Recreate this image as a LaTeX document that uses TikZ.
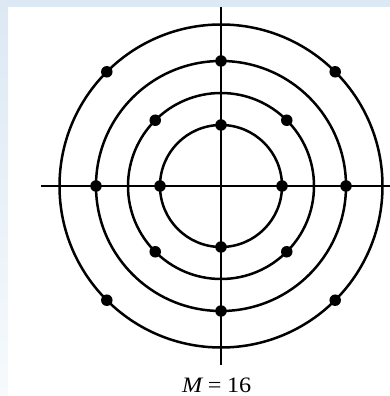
\documentclass[tikz,border=0pt]{standalone}
\usepackage{fontspec}
\setmainfont{Liberation Serif}
\usetikzlibrary{calc}
\definecolor{frametop}{RGB}{220,232,243}
\definecolor{framebot}{RGB}{246,250,253}
\begin{document}
\begin{tikzpicture}[x=1pt,y=1pt,
  ring/.style={line width=2.5pt},
  axis/.style={line width=2.7pt},
  pt/.style={circle,fill=black,inner sep=0pt,minimum size=11.5pt},
  lbl/.style={font=\fontsize{22}{22}\selectfont,inner sep=0pt,anchor=base west}]
\useasboundingbox (0,0) rectangle (390,396);
\fill[white] (0,0) rectangle (390,396);
\shade[top color=frametop,bottom color=framebot] (0,0) rectangle (8,396);
\fill[frametop] (0,389) rectangle (390,396);
\coordinate (O) at (221,210);
\coordinate (L) at (41,210);
\coordinate (R) at (390,210);
\coordinate (T) at (221,389);
\coordinate (B) at (221,31);
\draw[axis] (L) -- (R);
\draw[axis] (T) -- (B);
\draw[ring] (O) circle[radius=61];
\draw[ring] (O) circle[radius=93];
\draw[ring] (O) circle[radius=125];
\draw[ring] (O) circle[radius=161.5];
\foreach \a in {0,90,180,270}{
  \node[pt] (a\a) at ($(O)+(\a:61)$) {};
  \node[pt] (c\a) at ($(O)+(\a:125)$) {};
}
\foreach \a in {45,135,225,315}{
  \node[pt] (b\a) at ($(O)+(\a:93)$) {};
  \node[pt] (d\a) at ($(O)+(\a:161.5)$) {};
}
\node[lbl] (m) at (182,3) {\scalebox{1.1}[1]{\textit{M}\kern4pt=\kern5pt16}};
\end{tikzpicture}
\end{document}
